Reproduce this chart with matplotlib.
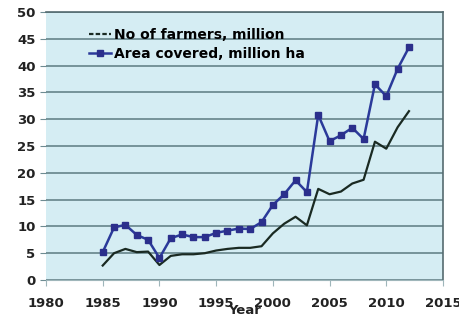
import matplotlib
matplotlib.use("Agg")
import matplotlib.pyplot as plt
from matplotlib.lines import Line2D

years = list(range(1985, 2013))
farmers = [2.7, 5.0, 5.8, 5.2, 5.3, 2.8, 4.5, 4.8, 4.8, 5.0, 5.5, 5.8, 6.0, 6.0,
           6.3, 8.7, 10.5, 11.8, 10.2, 17.0, 16.0, 16.5, 18.0, 18.7, 25.8, 24.5,
           28.5, 31.5]
area = [5.2, 9.8, 10.3, 8.4, 7.5, 4.1, 7.8, 8.5, 8.0, 8.0, 8.8, 9.2, 9.6, 9.5,
        10.8, 14.0, 16.0, 18.6, 16.4, 30.8, 25.9, 27.0, 28.4, 26.3, 36.5, 34.3,
        39.4, 43.4]
x_ticks = [1980, 1985, 1990, 1995, 2000, 2005, 2010, 2015]
y_ticks = [0, 5, 10, 15, 20, 25, 30, 35, 40, 45, 50]

fig = plt.figure(figsize=(4.6, 3.2), dpi=100)
ax = fig.add_axes([46 / 460, 1 - 280 / 320, (443 - 46) / 460, (280 - 12) / 320])
ax.set_facecolor("#d5edf3")

ax.plot(years, farmers, color="#1a2a22", lw=1.6, zorder=3)
ax.plot(years, area, color="#2b3a9a", lw=1.8, marker="s", ms=5,
        mfc="#2b2f8c", mec="#2b2f8c", zorder=4)

ax.set_xlim(1980, 2015)
ax.set_ylim(0, 50)
ax.set_xticks(x_ticks)
ax.set_yticks(y_ticks)
ax.yaxis.grid(True, color="#6e8c92", lw=1.3)
ax.set_axisbelow(True)

for side in ["top", "right"]:
    ax.spines[side].set_color("#556b70")
    ax.spines[side].set_linewidth(1.2)
ax.spines["left"].set_visible(False)
ax.spines["bottom"].set_color("#9fb6ba")
ax.tick_params(axis="both", labelsize=9.5, colors="#222222", length=3)
ax.tick_params(axis="y", length=4, color="#6e8c92")
ax.tick_params(axis="x", color="#9fb6ba", length=4, pad=8)
for lab in ax.get_xticklabels() + ax.get_yticklabels():
    lab.set_fontweight("bold")

ax.set_xlabel("Year", fontsize=9.5, fontweight="bold", labelpad=-4, color="#222222")

handles = [
    Line2D([0], [0], color="#1a2a22", lw=1.6, ls=(0, (2, 1))),
    Line2D([0], [0], color="#2b3a9a", lw=1.8, marker="s", ms=5,
           mfc="#2b2f8c", mec="#2b2f8c"),
]
ax.legend(handles, ["No of farmers, million", "Area covered, million ha"],
          loc="upper left", bbox_to_anchor=(0.095, 0.962), frameon=False,
          prop={"weight": "bold", "size": 10}, handlelength=1.6,
          handletextpad=0.15, labelspacing=0.35, borderaxespad=0)

fig.savefig("out.png", dpi=100)
